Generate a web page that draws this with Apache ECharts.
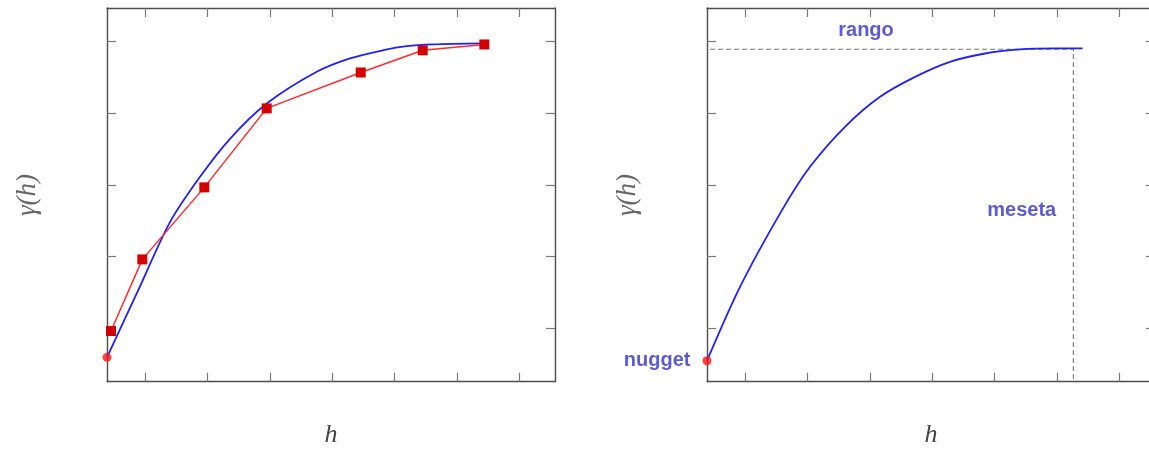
<!DOCTYPE html>
<html>
<head>
<meta charset="utf-8">
<script src="https://cdn.jsdelivr.net/npm/echarts@6/dist/echarts.min.js"></script>
<style>
html,body{margin:0;padding:0;background:#fff;}
#chart{width:1149px;height:451px;}
</style>
</head>
<body>
<div id="chart"></div>
<script>
// ---- data (h in tick-spacing units from the left frame, gamma in tick-spacing units from the bottom frame) ----
const xTicks = [0.615, 1.615, 2.615, 3.615, 4.615, 5.615, 6.615];
const yTicks = [0.74, 1.74, 2.74, 3.74, 4.74];

// left panel: experimental variogram (red squares)
const expH = [0.064, 0.567, 1.562, 2.563, 4.072, 5.067, 6.056];
const expGamma = [0.705, 1.702, 2.704, 3.803, 4.303, 4.611, 4.693];

// left panel: fitted model (blue)
const modelLeftH = [0, 0.502, 1.011, 1.493, 1.974, 2.563, 3.366, 3.9, 4.435, 4.81, 5.237, 6.04];
const modelLeftGamma = [0.339, 1.275, 2.221, 2.851, 3.38, 3.87, 4.312, 4.498, 4.613, 4.669, 4.693, 4.707];
const nuggetLeft = [0, 0.339];

// right panel: theoretical model (blue)
const modelRightH = [0, 0.53, 1.204, 1.653, 2.215, 2.777, 3.339, 3.9, 4.462, 5.024, 5.586, 6.027];
const modelRightGamma = [0.292, 1.32, 2.388, 2.99, 3.547, 3.964, 4.242, 4.451, 4.567, 4.623, 4.637, 4.637];
const nuggetRight = [0, 0.292];
const sill = 4.627;
const range = 5.88;
const annotations = [
  {name: 'rango', value: [2.552, 4.892]},
  {name: 'meseta', value: [5.051, 2.388]}
];

const X_MAX = 7.19, Y_MAX = 5.2;

function zip(a, b) { return a.map((v, i) => [v, b[i]]); }

const chart = echarts.init(document.getElementById('chart'), null, {renderer: 'canvas'});

const frameLine = {show: true, onZero: false, lineStyle: {color: '#4d4d4d', width: 1.4}};
function xAx(grid, pos) {
  return {
    gridIndex: grid, type: 'value', position: pos, min: 0, max: X_MAX,
    axisLine: frameLine,
    axisTick: {show: true, inside: true, length: 9, customValues: xTicks, lineStyle: {color: '#777', width: 1.2}},
    axisLabel: {show: false}, splitLine: {show: false}
  };
}
function yAx(grid, pos) {
  return {
    gridIndex: grid, type: 'value', position: pos, min: 0, max: Y_MAX,
    axisLine: frameLine,
    axisTick: {show: true, inside: true, length: 9, customValues: yTicks, lineStyle: {color: '#777', width: 1.2}},
    axisLabel: {show: false}, splitLine: {show: false}
  };
}

const blue = '#1f1fff';
const labelBlue = '#3232cc';
const labelFont = {fontFamily: '"Liberation Sans", Arial, sans-serif', fontWeight: 'bold', fontSize: 20, color: labelBlue};

const option = {
  animation: false,
  backgroundColor: '#ffffff',
  grid: [
    {left: 107, top: 8, width: 448, height: 373.7, containLabel: false, outerBoundsMode: 'none'},
    {left: 707, top: 8, width: 448, height: 373.7, containLabel: false, outerBoundsMode: 'none'}
  ],
  xAxis: [xAx(0, 'bottom'), xAx(0, 'top'), xAx(1, 'bottom'), xAx(1, 'top')],
  yAxis: [yAx(0, 'left'), yAx(0, 'right'), yAx(1, 'left'), yAx(1, 'right')],
  graphic: [
    {type: 'text', x: 28, y: 195, rotation: Math.PI / 2, style: {text: 'γ(h)', textAlign: 'center', textVerticalAlign: 'middle', font: 'italic 27px "Liberation Serif", serif', fill: '#666'}},
    {type: 'text', x: 628, y: 195, rotation: Math.PI / 2, style: {text: 'γ(h)', textAlign: 'center', textVerticalAlign: 'middle', font: 'italic 27px "Liberation Serif", serif', fill: '#666'}},
    {type: 'text', x: 331, y: 435, style: {text: 'h', textAlign: 'center', textVerticalAlign: 'middle', font: 'italic 26px "Liberation Serif", serif', fill: '#444'}},
    {type: 'text', x: 931, y: 435, style: {text: 'h', textAlign: 'center', textVerticalAlign: 'middle', font: 'italic 26px "Liberation Serif", serif', fill: '#444'}}
  ],
  series: [
    // left panel
    {type: 'line', xAxisIndex: 0, yAxisIndex: 0, data: zip(modelLeftH, modelLeftGamma), smooth: 0.3,
      showSymbol: false, lineStyle: {color: blue, width: 1.8}, z: 2},
    {type: 'line', xAxisIndex: 0, yAxisIndex: 0, data: zip(expH, expGamma), symbol: 'rect', symbolSize: 10,
      itemStyle: {color: '#d40000'}, lineStyle: {color: '#ff2b2b', width: 1.5}, z: 3},
    {type: 'scatter', xAxisIndex: 0, yAxisIndex: 0, data: [nuggetLeft], symbol: 'circle', symbolSize: 9,
      itemStyle: {color: '#ff1414'}, clip: false, z: 4},
    // right panel
    {type: 'line', xAxisIndex: 2, yAxisIndex: 2, data: [[0.05, sill], [range, sill], [range, 0]], showSymbol: false,
      lineStyle: {color: '#777', width: 1.1, type: [5, 3]}, z: 1},
    {type: 'line', xAxisIndex: 2, yAxisIndex: 2, data: zip(modelRightH, modelRightGamma), smooth: 0.3,
      showSymbol: false, lineStyle: {color: blue, width: 1.8}, z: 2},
    {type: 'scatter', xAxisIndex: 2, yAxisIndex: 2, data: [{value: nuggetRight, name: 'nugget'}], symbol: 'circle', symbolSize: 9,
      itemStyle: {color: '#ff1414'}, clip: false, z: 4,
      label: Object.assign({show: true, position: 'left', distance: 12, formatter: '{b}'}, labelFont)},
    {type: 'scatter', xAxisIndex: 2, yAxisIndex: 2, data: annotations, symbolSize: 0, clip: false, z: 4,
      label: Object.assign({show: true, position: 'inside', formatter: '{b}'}, labelFont)}
  ]
};
chart.setOption(option);
</script>
</body>
</html>
